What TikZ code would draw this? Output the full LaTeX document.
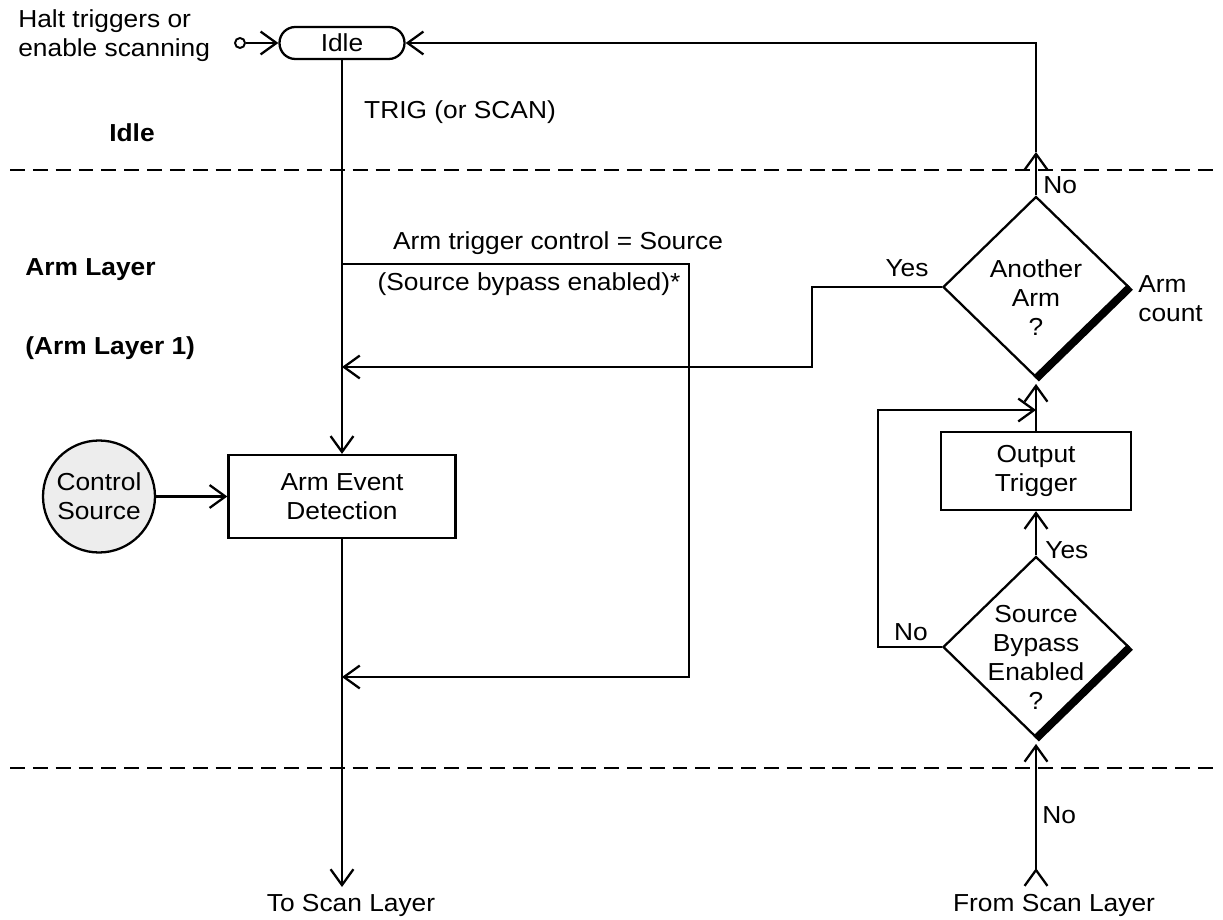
\documentclass[tikz,border=0pt]{standalone}
\usepackage{fontspec}
\setmainfont{Liberation Sans}[FakeStretch=1.07]
\usepackage{tikz}
\usetikzlibrary{arrows.meta,shapes.geometric}
\newcommand\diagfont{\fontsize{14}{16.5}\selectfont}

\begin{document}
\begin{tikzpicture}[>={Straight Barb[length=9pt,width=13pt]},line join=miter,
  every node/.style={font=\diagfont},
  flow/.style={line width=1.3pt},
  layer/.style={line width=1.2pt,dash pattern=on 8.5pt off 4.5pt},
  stepbox/.style={draw,line width=1.3pt,align=center,inner sep=0pt},
  decision/.style={draw,diamond,line width=1.3pt,minimum width=3.72cm,minimum height=3.62cm,inner sep=0pt},
  heavy/.style={line width=4.5pt,line cap=butt},
  txt/.style={align=center,inner sep=0pt},
  lbl/.style={align=left,inner sep=0pt,anchor=west},
  head/.style={lbl,font=\diagfont\bfseries}]
  \useasboundingbox (0,0) rectangle (24.46,-18.40);
  \node[stepbox,rounded corners=9pt,minimum width=2.5cm,minimum height=0.64cm] (idle) at (6.84,-0.86) {Idle};
  \node[draw,circle,line width=1.1pt,minimum size=0.2cm,inner sep=0pt] (haltin) at (4.80,-0.86) {};
  \node[lbl] (halttxt) at (0.36,-0.72) {Halt triggers or\\enable scanning};
  \node[txt] (trigtxt) at (9.20,-2.24) {TRIG (or SCAN)};
  \node[txt,font=\diagfont\bfseries] (idlelayer) at (2.64,-2.66) {Idle};
  \node[head] (armlayer) at (0.50,-5.40) {Arm Layer};
  \node[head] (armlayerone) at (0.50,-6.96) {(Arm Layer 1)};
  \node[txt] (armctl) at (11.16,-4.86) {Arm trigger control = Source};
  \node[txt] (bypassnote) at (10.58,-5.68) {(Source bypass enabled)*};
  \node[stepbox,minimum width=4.54cm,minimum height=1.66cm] (detect) at (6.84,-9.93) {Arm Event\\Detection};
  \node[stepbox,circle,fill=black!7,minimum size=2.24cm] (ctrl) at (1.98,-9.93) {Control\\Source};
  \node[decision] (another) at (20.72,-5.74) {};
  \node[txt] (anothertxt) at (20.72,-5.96) {Another\\Arm\\?};
  \node[stepbox,minimum width=3.80cm,minimum height=1.56cm] (output) at (20.72,-9.42) {Output\\Trigger};
  \node[decision] (bypass) at (20.72,-12.94) {};
  \node[txt] (bypasstxt) at (20.72,-13.14) {Source\\Bypass\\Enabled\\?};
  \node[lbl] (notop) at (20.86,-3.70) {No};
  \node[txt] (yesarm) at (18.14,-5.36) {Yes};
  \node[lbl] (counttxt) at (22.76,-5.98) {Arm\\count};
  \node[lbl] (yesout) at (20.90,-11.00) {Yes};
  \node[txt] (noleft) at (18.22,-12.64) {No};
  \node[lbl] (nobottom) at (20.84,-16.30) {No};
  \node[txt] (toscan) at (7.02,-18.10) {To Scan Layer};
  \node[txt] (fromscan) at (21.08,-18.10) {From Scan Layer};
  \coordinate (idleL) at (0.20,-3.40);
  \coordinate (idleR) at (24.36,-3.40);
  \coordinate (scanL) at (0.20,-15.36);
  \coordinate (scanR) at (24.36,-15.36);
  \coordinate (split) at (6.84,-5.28);
  \coordinate (bypassR) at (13.78,-5.28);
  \coordinate (bypassB) at (13.78,-13.54);
  \coordinate (yesturn) at (16.24,-7.34);
  \coordinate (loopturn) at (17.56,-8.20);
  \coordinate (retmark) at (20.72,-3.04);
  \coordinate (retcorner) at (20.72,-0.86);
  \coordinate (toscanend) at (6.84,-17.74);
  \coordinate (scanin) at (20.72,-17.74);
  \draw[layer] (idleL) -- (idleR);
  \draw[layer] (scanL) -- (scanR);
  \draw[flow,->] (haltin) -- (idle.west);
  \draw[flow,->] (idle.south) -- (detect.north);
  \draw[flow,->] (ctrl.east) -- (detect.west);
  \draw[flow,->] (detect.south) -- (toscanend);
  \draw[flow,->] (split) -- (bypassR) -- (bypassB) -- (detect.north |- bypassB);
  \draw[flow,->] (another.west) -| (yesturn) -- (detect.north |- yesturn);
  \draw[flow,->] (another.north) -- (retmark);
  \draw[flow,->] (retmark) -- (retcorner) -- (idle.east);
  \draw[flow,->,shorten >=3pt] (output.north) -- (another.south);
  \draw[flow,->] (bypass.north) -- (output.south);
  \draw[flow,->] (bypass.west) -| (loopturn) -- (another.south |- loopturn);
  \draw[flow,{Straight Barb[reversed,length=9pt,width=13pt]}->,shorten >=3pt] (scanin) -- (bypass.south);
  \draw[heavy] (another.east) -- (another.south);
  \draw[heavy] (bypass.east) -- (bypass.south);
\end{tikzpicture}
\end{document}
